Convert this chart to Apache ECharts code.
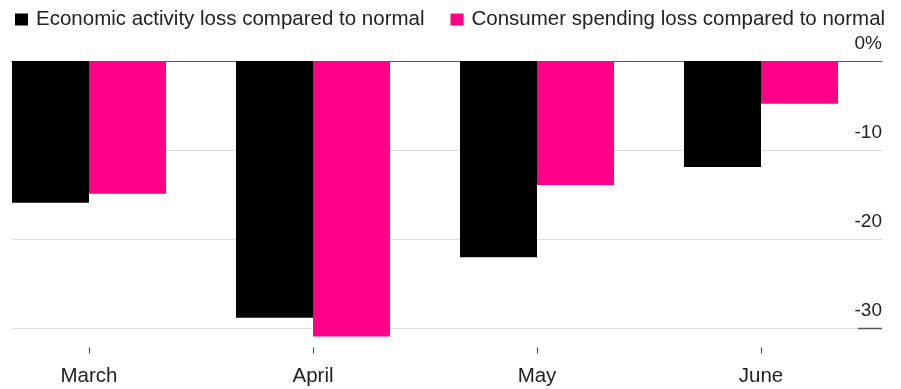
<!DOCTYPE html>
<html>
<head>
<meta charset="utf-8">
<script src="https://cdn.jsdelivr.net/npm/echarts@6/dist/echarts.min.js"></script>
<style>
  html, body { margin: 0; padding: 0; background: #fff; }
  #chart { width: 901px; height: 389px; }
</style>
</head>
<body>
<div id="chart"></div>
<script>
// Monthly losses versus a normal baseline, in percent
const months = ['March', 'April', 'May', 'June'];
const economicActivity = [-15.9, -28.8, -22.0, -11.9];
const consumerSpending = [-14.9, -30.9, -13.9, -4.8];
const yTicks = [0, -10, -20, -30];
const seriesNames = ['Economic activity loss compared to normal', 'Consumer spending loss compared to normal'];

const FONT = '"Liberation Sans", Arial, Helvetica, sans-serif';
const TEXT = '#222';

const chart = echarts.init(document.getElementById('chart'), null, { renderer: 'canvas' });

const yMin = Math.min(...yTicks);
const yMax = Math.max(...yTicks);

chart.setOption({
  animation: false,
  backgroundColor: '#fff',
  textStyle: { fontFamily: FONT },
  legend: {
    left: 10,
    top: 4,
    itemWidth: 13,
    itemHeight: 12,
    itemGap: 26,
    icon: 'rect',
    selectedMode: false,
    textStyle: { fontFamily: FONT, fontSize: 20.5, color: TEXT, padding: [0, 0, 0, 3] },
    data: seriesNames
  },
  grid: [
    // gridlines and value labels
    { left: 12, right: 19, top: 61, bottom: 60.5 },
    // bars and month labels: months sit on points from the first to the last
    { left: 89, right: 140, top: 61, bottom: 60.5 }
  ],
  xAxis: [
    {
      gridIndex: 0, type: 'category', data: months, position: 'top',
      axisLine: { show: true, onZero: false, lineStyle: { color: '#555', width: 1.2 } },
      axisTick: { show: false }, axisLabel: { show: false }, splitLine: { show: false }
    },
    {
      gridIndex: 1, type: 'category', data: months, boundaryGap: false,
      position: 'bottom', offset: 19,
      axisLine: { show: true, onZero: false, lineStyle: { color: 'rgba(255,255,255,0)' } },
      axisTick: { show: true, inside: false, length: 6, lineStyle: { color: '#555', width: 1.2 } },
      axisLabel: { fontFamily: FONT, fontSize: 20.5, color: TEXT, margin: 18 },
      splitLine: { show: false }
    }
  ],
  yAxis: [
    {
      gridIndex: 0, type: 'value', min: yMin, max: yMax, interval: 10, position: 'right',
      axisLine: { show: false }, axisTick: { show: false },
      splitLine: { show: true, lineStyle: { color: '#dcdcdc', width: 1 } },
      axisLabel: {
        inside: true, margin: 0, fontFamily: FONT, fontSize: 19, color: TEXT,
        verticalAlign: 'bottom', padding: [0, 0, 8, 0],
        formatter: v => (v === 0 ? '0%' : String(v))
      }
    },
    {
      gridIndex: 1, type: 'value', min: yMin, max: yMax, interval: 10,
      show: false, splitLine: { show: false }
    }
  ],
  series: [
    {
      name: seriesNames[0], type: 'bar', xAxisIndex: 1, yAxisIndex: 1,
      data: economicActivity, barWidth: 77, barGap: '0%', clip: false,
      itemStyle: { color: '#000' }
    },
    {
      name: seriesNames[1], type: 'bar', xAxisIndex: 1, yAxisIndex: 1,
      data: consumerSpending, barWidth: 77, barGap: '0%', clip: false,
      itemStyle: { color: '#ff0088' }
    }
  ]
});

// short dark rule under the lowest value label
const bottomY = chart.convertToPixel({ yAxisIndex: 0 }, yMin);
const gridRight = 901 - 19;
chart.setOption({
  graphic: [{
    type: 'line', z: 10,
    shape: { x1: gridRight - 24, y1: bottomY, x2: gridRight, y2: bottomY },
    style: { stroke: '#555', lineWidth: 1.5 }
  }]
});
</script>
</body>
</html>
